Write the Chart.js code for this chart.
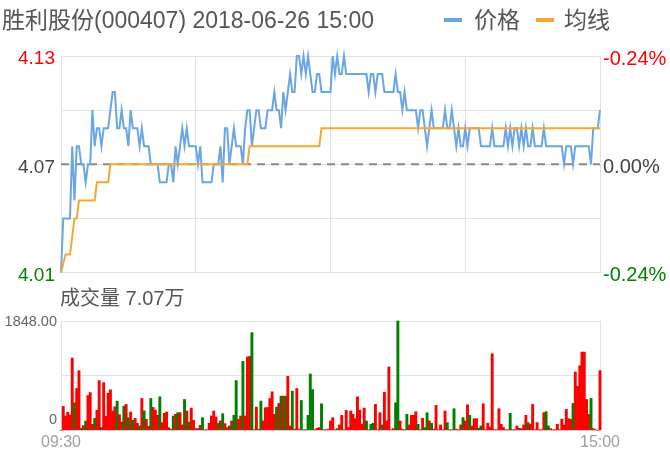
<!DOCTYPE html>
<html>
<head>
<meta charset="utf-8">
<script src="https://cdn.jsdelivr.net/npm/chart.js@4.4.1/dist/chart.umd.min.js"></script>
<style>
  html, body { margin: 0; padding: 0; background: #fff; }
  body { width: 670px; height: 456px; position: relative; overflow: hidden; }
  .txt { position: absolute; white-space: nowrap; font-family: 'Liberation Sans', 'Noto Sans CJK SC', sans-serif; color: #555; }
  .sw { position: absolute; height: 4px; width: 18px; }
  #w1 { position: absolute; left: 0; top: 0; width: 670px; height: 290px; }
  #w2 { position: absolute; left: 0; top: 300px; width: 670px; height: 156px; }
</style>
</head>
<body>
<div id="w1"><canvas id="c1"></canvas></div>
<div id="w2"><canvas id="c2"></canvas></div>
<div class="txt" id="title" style="left:2px;top:5px;font-size:23px;line-height:30px;">胜利股份(000407) 2018-06-26 15:00</div>
<div class="sw" style="left:444px;top:18px;background:#6aa5e6;"></div>
<div class="txt" style="left:474px;top:5px;font-size:23px;line-height:30px;">价格</div>
<div class="sw" style="left:536px;top:18px;background:#f5a733;"></div>
<div class="txt" style="left:564px;top:5px;font-size:23px;line-height:30px;">均线</div>
<div class="txt" style="left:60px;top:285px;font-size:20px;line-height:26px;">成交量 7.07万</div>
<script>
// ---------------- data ----------------
const prevClose = 4.07;
const priceTicks = [4.01, 4.04, 4.07, 4.10, 4.13];
const priceTickLabels = {"4.13": "4.13", "4.07": "4.07", "4.01": "4.01"};
const pctTickLabels = {"4.13": "-0.24%", "4.07": "0.00%", "4.01": "-0.24%"};
const volTicks = [0, 924, 1848];
const volMax = 1848;

const price = [
4.01,4.04,4.04,4.04,4.04,4.08,4.05,4.08,4.08,4.07,
4.07,4.06,4.07,4.07,4.10,4.08,4.09,4.09,4.08,4.09,
4.09,4.09,4.10,4.11,4.11,4.09,4.09,4.10,4.09,4.09,
4.08,4.10,4.09,4.09,4.09,4.08,4.09,4.08,4.08,4.08,
4.07,4.07,4.07,4.07,4.06,4.06,4.06,4.06,4.07,4.07,
4.06,4.08,4.07,4.08,4.09,4.08,4.09,4.08,4.08,4.08,
4.08,4.07,4.08,4.06,4.06,4.06,4.06,4.06,4.07,4.07,
4.07,4.08,4.06,4.09,4.09,4.07,4.08,4.09,4.08,4.08,
4.08,4.07,4.09,4.10,4.10,4.08,4.09,4.10,4.10,4.09,
4.09,4.09,4.10,4.10,4.10,4.11,4.10,4.10,4.09,4.11,
4.10,4.11,4.12,4.11,4.11,4.13,4.13,4.12,4.13,4.12,
4.13,4.12,4.11,4.11,4.12,4.12,4.11,4.11,4.11,4.11,
4.11,4.13,4.12,4.13,4.12,4.12,4.13,4.12,4.12,4.12,
4.12,4.12,4.12,4.12,4.12,4.12,4.12,4.11,4.12,4.12,
4.11,4.12,4.12,4.12,4.11,4.11,4.11,4.11,4.11,4.12,
4.11,4.11,4.10,4.11,4.10,4.10,4.10,4.10,4.10,4.09,
4.10,4.10,4.09,4.08,4.09,4.10,4.09,4.09,4.09,4.09,
4.09,4.10,4.09,4.09,4.10,4.09,4.08,4.09,4.08,4.08,
4.09,4.08,4.09,4.09,4.09,4.09,4.09,4.08,4.08,4.08,
4.08,4.08,4.09,4.08,4.08,4.08,4.08,4.08,4.09,4.08,
4.09,4.08,4.09,4.09,4.08,4.09,4.08,4.09,4.08,4.08,
4.09,4.08,4.08,4.08,4.08,4.09,4.08,4.08,4.08,4.08,
4.08,4.08,4.08,4.08,4.07,4.08,4.08,4.08,4.07,4.08,
4.08,4.08,4.08,4.08,4.08,4.08,4.07,4.09,4.09,4.09,
4.10
];

const avgPrice = [
4.01,4.015,4.02,4.02,4.02,4.03,4.04,4.04,4.05,4.05,
4.05,4.05,4.05,4.05,4.05,4.05,4.06,4.06,4.06,4.06,
4.06,4.06,4.07,4.07,4.07,4.07,4.07,4.07,4.07,4.07,
4.07,4.07,4.07,4.07,4.07,4.07,4.07,4.07,4.07,4.07,
4.07,4.07,4.07,4.07,4.07,4.07,4.07,4.07,4.07,4.07,
4.07,4.07,4.07,4.07,4.07,4.07,4.07,4.07,4.07,4.07,
4.07,4.07,4.07,4.07,4.07,4.07,4.07,4.07,4.07,4.07,
4.07,4.07,4.07,4.07,4.07,4.07,4.07,4.07,4.07,4.07,
4.07,4.07,4.07,4.07,4.08,4.08,4.08,4.08,4.08,4.08,
4.08,4.08,4.08,4.08,4.08,4.08,4.08,4.08,4.08,4.08,
4.08,4.08,4.08,4.08,4.08,4.08,4.08,4.08,4.08,4.08,
4.08,4.08,4.08,4.08,4.08,4.08,4.09,4.09,4.09,4.09,
4.09,4.09,4.09,4.09,4.09,4.09,4.09,4.09,4.09,4.09,
4.09,4.09,4.09,4.09,4.09,4.09,4.09,4.09,4.09,4.09,
4.09,4.09,4.09,4.09,4.09,4.09,4.09,4.09,4.09,4.09,
4.09,4.09,4.09,4.09,4.09,4.09,4.09,4.09,4.09,4.09,
4.09,4.09,4.09,4.09,4.09,4.09,4.09,4.09,4.09,4.09,
4.09,4.09,4.09,4.09,4.09,4.09,4.09,4.09,4.09,4.09,
4.09,4.09,4.09,4.09,4.09,4.09,4.09,4.09,4.09,4.09,
4.09,4.09,4.09,4.09,4.09,4.09,4.09,4.09,4.09,4.09,
4.09,4.09,4.09,4.09,4.09,4.09,4.09,4.09,4.09,4.09,
4.09,4.09,4.09,4.09,4.09,4.09,4.09,4.09,4.09,4.09,
4.09,4.09,4.09,4.09,4.09,4.09,4.09,4.09,4.09,4.09,
4.09,4.09,4.09,4.09,4.09,4.09,4.09,4.09,4.09,4.09,
4.09
];

const volume = [
0,403,241,302,258,1221,465,706,1008,34,
78,157,588,638,100,200,336,840,50,806,
235,627,683,325,398,493,263,140,409,437,
213,308,168,202,118,73,538,330,185,67,
538,386,342,252,566,129,286,308,45,17,
241,269,297,297,90,521,325,140,375,168,
28,28,84,213,6,6,118,241,325,224,
118,157,280,112,45,73,157,252,840,185,
241,1165,241,1238,1249,1652,6,392,17,493,
157,381,386,538,650,269,392,454,577,577,
577,913,73,661,17,706,17,504,6,6,
252,952,689,6,34,45,448,6,6,17,
157,213,6,28,90,252,6,336,45,325,
269,196,566,342,101,375,157,6,101,118,
437,6,297,90,644,157,1070,6,28,465,
1848,157,17,6,269,90,252,252,314,101,
6,202,45,297,157,118,17,420,6,90,
6,325,129,6,6,364,17,6,90,213,
157,431,252,73,196,196,34,73,448,6,
118,56,1294,6,6,364,101,45,6,6,
286,6,6,73,34,28,90,252,129,101,
437,6,129,6,6,297,314,73,28,6,
6,101,6,185,90,353,196,185,454,986,
745,1092,1322,1322,521,269,538,28,6,0,
1008
];

// 1 = up (red), 0 = down (green)
const volUp = [
1,1,1,1,1,1,0,1,1,0,
1,0,1,1,1,0,1,1,0,1,
1,1,1,1,1,0,1,1,0,1,
0,1,0,1,1,0,1,0,1,1,
0,1,1,1,0,1,1,1,1,0,
0,1,0,1,1,0,1,0,1,1,
1,0,1,0,1,1,1,1,1,1,
0,1,0,1,1,0,1,0,0,1,
1,0,1,1,1,0,1,1,0,0,
1,1,1,1,1,1,0,1,0,1,
0,1,1,0,1,1,1,0,0,1,
0,0,0,1,1,1,0,1,1,1,
1,1,1,0,1,1,0,1,1,1,
1,1,1,1,1,1,0,1,0,0,
1,1,1,0,1,1,1,1,1,0,
0,1,1,0,0,1,1,1,1,0,
1,1,0,0,1,0,1,1,1,1,
1,1,0,1,1,0,1,1,1,0,
1,1,0,1,1,1,0,0,1,1,
1,1,1,1,1,1,1,1,1,1,
0,1,1,1,1,0,1,1,0,1,
1,1,1,1,1,1,0,0,1,1,
1,1,1,1,1,1,1,1,0,1,
1,1,1,1,1,1,0,1,1,1,
1
];

// category labels: trading minutes 09:30-11:30, 13:01-15:00
const timeLabels = [];
const pad2 = n => (n < 10 ? '0' : '') + n;
for (let m = 9 * 60 + 30; m <= 11 * 60 + 30; m++) timeLabels.push(pad2(Math.floor(m / 60)) + ':' + pad2(m % 60));
for (let m = 13 * 60 + 1; m <= 15 * 60; m++) timeLabels.push(pad2(Math.floor(m / 60)) + ':' + pad2(m % 60));
const gridMinutes = [0, 60, 120, 180, 240];

// ---------------- styles ----------------
const BLUE = '#6aa5e6', ORANGE = '#f5a733', GRID = '#dde2ea';
const RED = '#ff0000', GREEN = '#008000', DARK = '#444444';
Chart.defaults.font.family = "'Liberation Sans', Arial, sans-serif";
Chart.defaults.animation = false;

const labelColor = v => {
  const k = Number(v).toFixed(2);
  if (k === '4.13') return RED;
  if (k === '4.01') return GREEN;
  return DARK;
};

new Chart(document.getElementById('c1'), {
  type: 'line',
  data: {
    labels: timeLabels,
    datasets: [
      { label: '均线', data: avgPrice, borderColor: ORANGE, borderWidth: 2, pointRadius: 0, tension: 0, clip: false, order: 1 },
      { label: '价格', data: price, borderColor: BLUE, borderWidth: 2, pointRadius: 0, tension: 0, clip: false, order: 2 },
      { label: '昨收', data: timeLabels.map(() => prevClose), borderColor: '#888888', borderWidth: 2, borderDash: [8, 6], pointRadius: 0, order: 3 }
    ]
  },
  options: {
    responsive: true, maintainAspectRatio: false,
    layout: { padding: { top: 56, bottom: 14, left: 0, right: 0 } },
    plugins: { legend: { display: false }, tooltip: { enabled: false } },
    scales: {
      x: {
        type: 'category', offset: false,
        afterBuildTicks: s => { s.ticks = s.ticks.filter(t => gridMinutes.includes(t.value)); },
        afterFit: s => { s.height = 0; },
        ticks: { display: false },
        grid: { color: GRID, lineWidth: 1, drawTicks: false },
        border: { display: false }
      },
      y: {
        position: 'left', min: 4.01, max: 4.13,
        afterBuildTicks: s => { s.ticks = priceTicks.map(v => ({ value: v })); },
        afterFit: s => { s.width = 61; },
        ticks: {
          padding: 6, font: { size: 19 }, labelOffset: 3,
          callback: v => priceTickLabels[Number(v).toFixed(2)] || '',
          color: ctx => labelColor(ctx.tick.value)
        },
        grid: { color: GRID, lineWidth: 1, drawTicks: false },
        border: { display: false }
      },
      y2: {
        position: 'right', min: 4.01, max: 4.13,
        afterBuildTicks: s => { s.ticks = priceTicks.map(v => ({ value: v })); },
        afterFit: s => { s.width = 70; },
        ticks: {
          padding: 3, font: { size: 20 }, labelOffset: 3,
          callback: v => pctTickLabels[Number(v).toFixed(2)] || '',
          color: ctx => labelColor(ctx.tick.value)
        },
        grid: { display: false, drawTicks: false },
        border: { display: false }
      }
    }
  }
});

new Chart(document.getElementById('c2'), {
  type: 'bar',
  data: {
    labels: timeLabels,
    datasets: [{
      label: '成交量', data: volume,
      backgroundColor: volUp.map(u => (u ? RED : GREEN)),
      barPercentage: 1.0, categoryPercentage: 1.0, clip: false
    }]
  },
  options: {
    responsive: true, maintainAspectRatio: false,
    layout: { padding: { top: 21, bottom: 0, left: 0, right: 0 } },
    plugins: { legend: { display: false }, tooltip: { enabled: false } },
    scales: {
      x: {
        type: 'category', offset: false,
        afterFit: s => { s.height = 25; },
        ticks: {
          autoSkip: false, maxRotation: 0, minRotation: 0, padding: 3,
          color: '#a0a0a0', font: { size: 16 },
          callback: (v, i) => (i === 0 || i === timeLabels.length - 1) ? timeLabels[i] : ''
        },
        grid: { display: false, drawTicks: false },
        border: { display: true, color: GRID }
      },
      y: {
        position: 'left', min: 0, max: volMax,
        afterBuildTicks: s => { s.ticks = volTicks.map(v => ({ value: v })); },
        afterFit: s => { s.width = 61; },
        ticks: {
          padding: 4, color: '#666666', font: { size: 14.5, lineHeight: 1.5 }, labelOffset: 1,
          callback: v => (v === volMax ? volMax.toFixed(2) : (v === 0 ? ['0', ''] : ''))
        },
        grid: { color: GRID, lineWidth: 1, drawTicks: false },
        border: { display: true, color: GRID }
      },
      yR: {
        position: 'right', min: 0, max: volMax,
        afterFit: s => { s.width = 70; },
        ticks: { display: false },
        grid: { display: false, drawTicks: false },
        border: { display: true, color: GRID }
      }
    }
  }
});
</script>
</body>
</html>
